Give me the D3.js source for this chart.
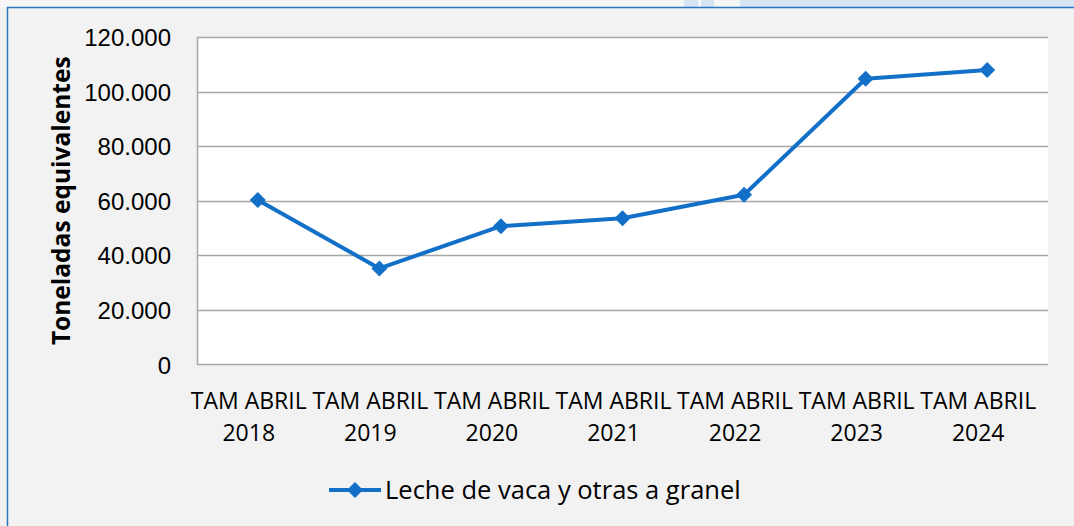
<!DOCTYPE html>
<html>
<head>
<meta charset="utf-8">
<script src="https://cdn.jsdelivr.net/npm/d3@7"></script>
<style>
	html, body { margin: 0; padding: 0; background: #f2f2f2; }
	svg { display: block; font-family: "Open Sans", "Noto Sans", sans-serif; }
</style>
</head>
<body>
<div id="chart"></div>
<script>
// Data
const categories = ["TAM ABRIL 2018", "TAM ABRIL 2019", "TAM ABRIL 2020", "TAM ABRIL 2021", "TAM ABRIL 2022", "TAM ABRIL 2023", "TAM ABRIL 2024"];
const catLines = [["TAM ABRIL", "2018"], ["TAM ABRIL", "2019"], ["TAM ABRIL", "2020"], ["TAM ABRIL", "2021"], ["TAM ABRIL", "2022"], ["TAM ABRIL", "2023"], ["TAM ABRIL", "2024"]];
const values = [60300, 35200, 50700, 53600, 62200, 104700, 107900];
const yTicks = [0, 20000, 40000, 60000, 80000, 100000, 120000];
const seriesName = "Leche de vaca y otras a granel";
const yTitle = "Toneladas equivalentes";

const W = 1074, H = 526;
const margin = { top: 37, right: 26, bottom: 161.5, left: 197 };
const blue = "#1270c8";

const svg = d3.select("#chart").append("svg")
	.attr("width", W)
	.attr("height", H);

// background strip at the very top and the frame
svg.append("rect").attr("x", 0).attr("y", 0).attr("width", W).attr("height", 7).attr("fill", "#f6f6f6");
[[684, 14], [701, 13], [740, W - 740]].forEach(([x, w]) => {
	svg.append("rect").attr("x", x).attr("y", 0).attr("width", w).attr("height", 7).attr("fill", "#d5e5f4");
});
svg.append("rect").attr("x", 7).attr("y", 7).attr("width", W).attr("height", H).attr("fill", "#f2f2f2");
svg.append("line").attr("x1", 7).attr("x2", W).attr("y1", 7.5).attr("y2", 7.5).attr("stroke", "#2e75c0").attr("stroke-width", 1.5);
svg.append("line").attr("x1", 7.5).attr("x2", 7.5).attr("y1", 7).attr("y2", H).attr("stroke", "#2e75c0").attr("stroke-width", 1.5);

const width = W - margin.left - margin.right;
const height = H - margin.top - margin.bottom;

const g = svg.append("g").attr("transform", `translate(${margin.left},${margin.top})`);

const x = d3.scaleBand().domain(categories).range([0, width]);
const y = d3.scaleLinear().domain([0, 120000]).range([height, 0]);

// plot area
g.append("rect").attr("width", width).attr("height", height).attr("fill", "#ffffff");

// gridlines
g.append("g")
	.selectAll("line")
	.data(yTicks.filter(d => d > 0))
	.join("line")
	.attr("x1", 0).attr("x2", width)
	.attr("y1", d => Math.round(y(d)) + 0.5).attr("y2", d => Math.round(y(d)) + 0.5)
	.attr("stroke", "#a6a6a6").attr("stroke-width", 1.5);

// y axis
const fmt = d => d === 0 ? "0" : d3.format(",")(d).replace(/,/g, ".");
const yAxis = g.append("g")
	.call(d3.axisLeft(y).tickValues(yTicks).tickFormat(fmt).tickSize(0).tickPadding(26));
yAxis.select(".domain").attr("stroke", "#a6a6a6").attr("stroke-width", 1.5);
yAxis.selectAll("text").attr("font-size", 24).attr("fill", "#000").attr("dy", "0.36em");

// x axis baseline
g.append("line")
	.attr("x1", 0).attr("x2", width)
	.attr("y1", height).attr("y2", height)
	.attr("stroke", "#a6a6a6").attr("stroke-width", 1.5);

// x labels
const xl = g.append("g").selectAll("text")
	.data(categories)
	.join("text")
	.attr("x", d => x(d) + x.bandwidth() / 2 - 9)
	.attr("y", height + 44)
	.attr("text-anchor", "middle")
	.attr("font-size", 23)
	.attr("fill", "#000");
xl.selectAll("tspan")
	.data((d, i) => catLines[i].map(t => ({ t, xx: x(d) + x.bandwidth() / 2 - 9 })))
	.join("tspan")
	.attr("x", d => d.xx)
	.attr("dy", (d, i) => i === 0 ? 0 : 32)
	.text(d => d.t);

// y title
svg.append("text")
	.attr("transform", `translate(70,${margin.top + height / 2}) rotate(-90)`)
	.attr("text-anchor", "middle")
	.attr("font-size", 24.5)
	.attr("font-weight", "bold")
	.attr("fill", "#000")
	.text(yTitle);

// series line
const pts = categories.map((c, i) => [x(c) + x.bandwidth() / 2, y(values[i])]);
g.append("path")
	.attr("d", d3.line()(pts))
	.attr("fill", "none")
	.attr("stroke", blue)
	.attr("stroke-width", 4)
	.attr("stroke-linejoin", "round");

const diamond = d3.symbol().type(d3.symbolSquare).size(128);
g.append("g").selectAll("path")
	.data(pts)
	.join("path")
	.attr("d", diamond)
	.attr("transform", d => `translate(${d[0]},${d[1]}) rotate(45)`)
	.attr("fill", blue);

// legend
const lg = svg.append("g").attr("transform", "translate(329,490)");
lg.append("line").attr("x1", 0).attr("x2", 52).attr("y1", 0).attr("y2", 0)
	.attr("stroke", blue).attr("stroke-width", 4);
lg.append("path").attr("d", diamond).attr("transform", "translate(26,0) rotate(45)").attr("fill", blue);
lg.append("text").attr("x", 56).attr("y", 0).attr("dy", "0.36em")
	.attr("font-size", 25.5).attr("fill", "#000").text(seriesName);
</script>
</body>
</html>
